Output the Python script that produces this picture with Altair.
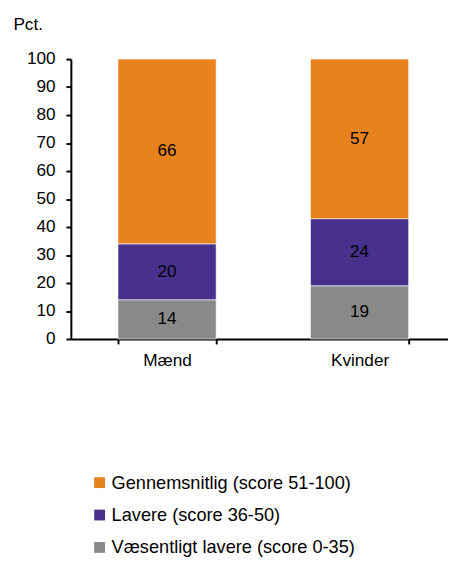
import altair as alt
import pandas as pd

groups = ["Mænd", "Kvinder"]
categories = ["Væsentligt lavere (score 0-35)", "Lavere (score 36-50)", "Gennemsnitlig (score 51-100)"]
maend = [14, 20, 66]
kvinder = [19, 24, 57]
legend_order = ["Gennemsnitlig (score 51-100)", "Lavere (score 36-50)", "Væsentligt lavere (score 0-35)"]
colors = ["#E8821E", "#48318C", "#898989"]
y_ticks = list(range(0, 101, 10))

rows = []
for g, vals in zip(groups, [maend, kvinder]):
    for i, (c, v) in enumerate(zip(categories, vals)):
        rows.append({"gruppe": g, "kategori": c, "værdi": v, "orden": i})
df = pd.DataFrame(rows)

FONT = "Arial"
FS = 17.5
LFS = 18.5

x_enc = alt.X("gruppe:N", sort=groups, title=None,
              scale=alt.Scale(paddingInner=0.49, paddingOuter=0.2246, align=0.545),
              axis=alt.Axis(labelAngle=0, labelFontSize=FS, labelFont=FONT, labelColor="black",
                            domainColor="black", domainWidth=2, tickColor="black", tickWidth=2,
                            tickSize=5, tickBand="extent", labelPadding=8))

y_axis = alt.Axis(values=y_ticks, grid=False, labelFontSize=FS, labelFont=FONT,
                  labelColor="black", domainColor="black", domainWidth=2,
                  tickColor="black", tickWidth=2, tickSize=5, labelPadding=11,
                  labelOverlap=False,
                  title="Pct.", titleAngle=0, titleAlign="left", titleBaseline="alphabetic",
                  titleX=-59, titleY=-30, titleFont=FONT, titleFontSize=FS,
                  titleFontWeight="normal", titleColor="black")
y_scale = alt.Scale(domain=[0, 100], nice=False)

base = alt.Chart(df).transform_stack(
    stack="værdi", groupby=["gruppe"], as_=["y0", "y1"],
    sort=[alt.SortField("orden", order="ascending")]
).transform_calculate(mid="(datum.y0 + datum.y1) / 2").encode(x=x_enc)

bars = base.mark_bar(stroke="white", strokeWidth=0.6).encode(
    y=alt.Y("y0:Q", scale=y_scale, axis=y_axis),
    y2="y1:Q",
    color=alt.Color("kategori:N", scale=alt.Scale(domain=legend_order, range=colors),
                    legend=alt.Legend(title=None, orient="none", legendX=20, legendY=422,
                                      direction="vertical", symbolType="square", symbolSize=121,
                                      symbolStrokeWidth=0, labelFontSize=LFS, labelFont=FONT,
                                      labelColor="black", rowPadding=14, labelOffset=3,
                                      labelLimit=400)),
)

labels = base.mark_text(fontSize=FS, font=FONT, color="black", baseline="middle").encode(
    y=alt.Y("mid:Q", scale=y_scale, axis=y_axis),
    text=alt.Text("værdi:Q"),
)

chart = alt.layer(bars, labels).properties(
    width=384, height=285,
    autosize=alt.AutoSizeParams(type="none"),
    padding={"left": 64, "top": 47, "right": 0, "bottom": 220},
).configure_view(stroke=None)

chart.save("out.html", embed_options={"renderer": "svg", "actions": False})
